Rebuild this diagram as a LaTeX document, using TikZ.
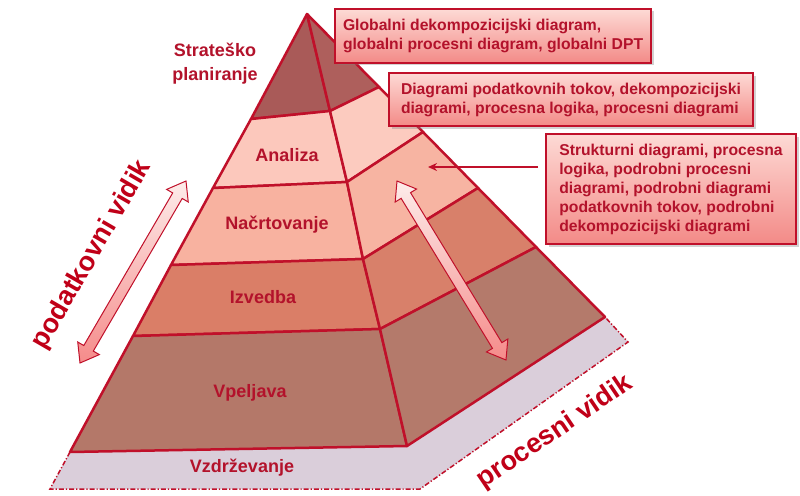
\documentclass[tikz,border=0pt]{standalone}
\usepackage{fontspec}
\setmainfont{Liberation Sans}
\usetikzlibrary{calc,arrows.meta,shadows}
\definecolor{lred}{HTML}{C0102A}
\definecolor{ltxt}{HTML}{B3122B}
\definecolor{vred}{HTML}{C00018}
\definecolor{sA}{HTML}{A95A58}
\definecolor{sB}{HTML}{AE5F5C}
\definecolor{aA}{HTML}{FCC8BC}
\definecolor{aB}{HTML}{FCCBBF}
\definecolor{nA}{HTML}{F8B2A0}
\definecolor{nB}{HTML}{F7B4A2}
\definecolor{iA}{HTML}{DA7E67}
\definecolor{iB}{HTML}{D8806A}
\definecolor{vA}{HTML}{B47869}
\definecolor{vB}{HTML}{B47A6B}
\definecolor{basec}{HTML}{DACEDA}
\definecolor{boxtop}{HTML}{FDDAD5}
\definecolor{boxbot}{HTML}{F38A87}
\definecolor{arlight}{HTML}{FDECEA}
\definecolor{ardark}{HTML}{F58B8A}
\tikzset{
  face/.style={draw=lred, line width=2.5pt, line join=round},
  lvl/.style={font=\bfseries\fontsize{18}{24}\selectfont, text=ltxt, align=center, inner sep=0pt},
  callout/.style={draw=lred, line width=2pt, top color=boxtop, bottom color=boxbot,
    anchor=north west, inner xsep=8pt, inner ysep=0pt, align=left,
    font=\bfseries\fontsize{15.7}{19}\selectfont, text=ltxt,
    drop shadow={shadow xshift=2.5pt, shadow yshift=-2.5pt, opacity=0.35}},
  vidik/.style={font=\bfseries\fontsize{27}{32}\selectfont, text=vred, inner sep=0pt},
  fatarrow/.style={draw=lred, line width=1pt, top color=arlight, bottom color=ardark, line join=miter},
  thinarrow/.style={draw=lred, line width=1.5pt, -{Stealth[length=9pt,width=8pt]}},
  basedash/.style={draw=lred, line width=1.5pt, dash pattern=on 5pt off 2pt on 1.2pt off 2pt}
}
\newcommand\fatdarrow[2]{%
  \coordinate (fq) at ($(#1)!17pt!(#2)$);
  \coordinate (fr) at ($(#2)!17pt!(#1)$);
  \path[fatarrow] (#1) -- ($(fq)!12.5pt!90:(#2)$) -- ($(fq)!5.5pt!90:(#2)$)
    -- ($(fr)!5.5pt!-90:(#1)$) -- ($(fr)!12.5pt!-90:(#1)$) -- (#2)
    -- ($(fr)!12.5pt!90:(#1)$) -- ($(fr)!5.5pt!90:(#1)$)
    -- ($(fq)!5.5pt!-90:(#2)$) -- ($(fq)!12.5pt!-90:(#2)$) -- cycle;
}
\begin{document}
\begin{tikzpicture}[x=1pt, y=-1pt]
\useasboundingbox (0,0) rectangle (800,495);
\fill[white] (0,0) rectangle (800,495);

% base (Vzdrzevanje)
\fill[basec] (70,452) -- (50,489) -- (420,489) -- (628,342) -- (605,317) -- (407,446) -- cycle;
\draw[basedash] (70,452) -- (50,489) -- (420,489) -- (628,342) -- (605,317);

% front faces
\path[face, fill=sA] (307,14) -- (330,111) -- (251,119) -- cycle;
\path[face, fill=aA] (251,119) -- (330,111) -- (347,182) -- (213,188) -- cycle;
\path[face, fill=nA] (213,188) -- (347,182) -- (363,259) -- (171,265) -- cycle;
\path[face, fill=iA] (171,265) -- (363,259) -- (380,329) -- (133,336) -- cycle;
\path[face, fill=vA] (133,336) -- (380,329) -- (407,446) -- (70,452) -- cycle;
% right faces
\path[face, fill=sB] (307,14) -- (379,87) -- (330,111) -- cycle;
\path[face, fill=aB] (330,111) -- (379,87) -- (423,132) -- (347,182) -- cycle;
\path[face, fill=nB] (347,182) -- (423,132) -- (478,188) -- (363,259) -- cycle;
\path[face, fill=iB] (363,259) -- (478,188) -- (536,247) -- (380,329) -- cycle;
\path[face, fill=vB] (380,329) -- (536,247) -- (605,317) -- (407,446) -- cycle;

% level labels
\node[lvl] (strat) at (215,64) {Strateško\\planiranje};
\node[lvl] (anal) at (287,155) {Analiza};
\node[lvl] (nacr) at (277,225) {Načrtovanje};
\node[lvl] (izv) at (263,297) {Izvedba};
\node[lvl] (vpel) at (250,393) {Vpeljava};
\node[lvl] (vzdr) at (242,468) {Vzdrževanje};

% fat double arrows
\coordinate (la1) at (186,181);
\coordinate (la2) at (80,363);
\fatdarrow{la1}{la2}
\coordinate (ra1) at (397,181);
\coordinate (ra2) at (506,360);
\fatdarrow{ra1}{ra2}

% side labels
\node[vidik, rotate=60] (pv) at (92,255) {podatkovni vidik};
\node[vidik, rotate=34] (prv) at (555,432) {procesni vidik};

% callouts
\node[callout, minimum width=280pt, minimum height=54pt] (b1) at (334,8)
  {Globalni dekompozicijski diagram,\\globalni procesni diagram, globalni DPT};
\node[callout, minimum width=364pt, minimum height=53pt] (b2) at (388,72)
  {Diagrami podatkovnih tokov, dekompozicijski\\diagrami, procesna logika, procesni diagrami};
\node[callout, minimum width=250pt, minimum height=110pt] (b3) at (545,133)
  {Strukturni diagrami, procesna\\logika, podrobni procesni\\diagrami, podrobni diagrami\\podatkovnih tokov, podrobni\\dekompozicijski diagrami};

\coordinate (ta) at (538,167);
\coordinate (tb) at (428,167);
\draw[thinarrow] (ta) -- (tb);
\end{tikzpicture}
\end{document}
